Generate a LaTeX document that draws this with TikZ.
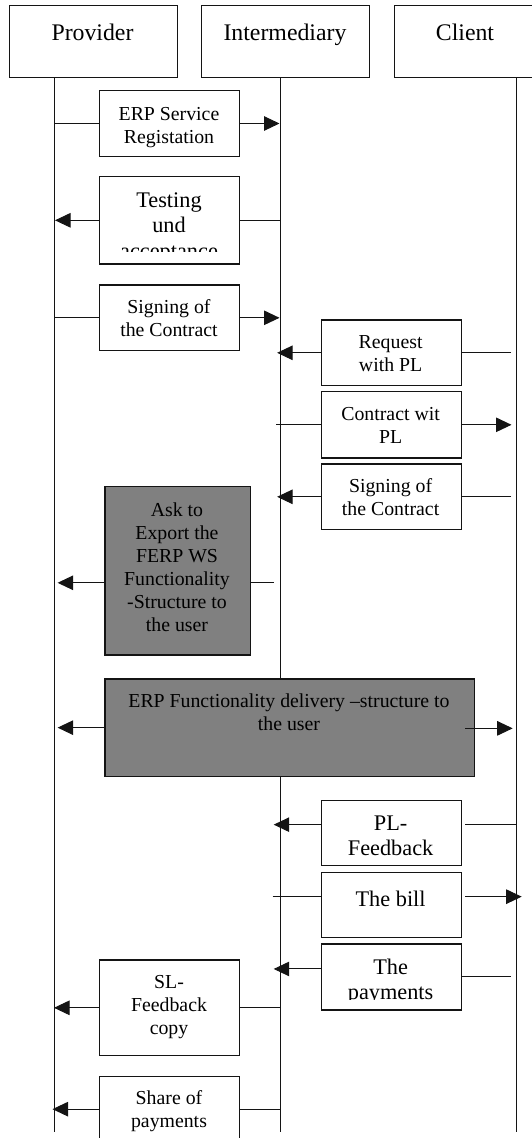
\documentclass[tikz,border=0pt]{standalone}
\usepackage{fontspec}
\setmainfont{Liberation Serif}
\usetikzlibrary{arrows.meta,calc}
\definecolor{boxgray}{RGB}{128,128,128}
\definecolor{ink}{RGB}{20,20,20}
\begin{document}
\begin{tikzpicture}[x=1pt,y=-1pt,
  hdr/.style={draw=ink,line width=1.2pt,inner sep=0pt,anchor=north west},
  box/.style={draw=ink,fill=white,line width=1.3pt,inner sep=0pt,anchor=north west},
  gbox/.style={box,fill=boxgray},
  hdrtxt/.style={font=\fontsize{23.8}{27}\selectfont,inner sep=0pt,anchor=base},
  txt/.style={font=\fontsize{19.8}{23}\selectfont,align=center,inner sep=0pt,anchor=north,yshift=-3.5pt,execute at begin node={\rule{0pt}{16.1pt}}},
  txtL/.style={font=\fontsize{22.3}{25.7}\selectfont,align=center,inner sep=0pt,anchor=north,yshift=-3.5pt,execute at begin node={\rule{0pt}{18pt}}},
  life/.style={draw=ink,line width=1pt},
  ln/.style={draw=ink,line width=1pt},
  arr/.style={ln,-{Triangle[length=15.5pt,width=14.5pt]}}]
\useasboundingbox (0,0) rectangle (532,1138);
\clip (0,0) rectangle (532,1138);

% headers
\node[hdr,minimum width=168.5pt,minimum height=72pt] (hP) at (8.5,5) {};
\node[hdr,minimum width=168.5pt,minimum height=72pt] (hI) at (200.5,5) {};
\node[hdr,minimum width=175pt,minimum height=72pt] (hC) at (394,5) {};
\node[hdrtxt] (tP) at (92.5,40) {Provider};
\node[hdrtxt] (tI) at (285,40) {Intermediary};
\node[hdrtxt] (tC) at (465,40) {Client};

% lifelines
\coordinate (P) at (54,77);   \coordinate (Pe) at (54,1131.7);
\coordinate (I) at (280.5,77); \coordinate (Ie) at (280.5,1131.7);
\coordinate (C) at (516,77);  \coordinate (Ce) at (516,1131.7);
\draw[life] (P) -- (Pe);
\draw[life] (I) -- (Ie);
\draw[life] (C) -- (Ce);

% message boxes
\node[box,minimum width=140pt,minimum height=65.7pt] (b1) at (99,90) {};
\node[box,minimum width=140pt,minimum height=87.3pt] (b2) at (99,176) {};
\node[box,minimum width=140pt,minimum height=65.7pt] (b3) at (99,284.3) {};
\node[box,minimum width=140.2pt,minimum height=65.7pt] (b4) at (320.5,319.3) {};
\node[box,minimum width=140.2pt,minimum height=66.3pt] (b5) at (320.5,391) {};
\node[box,minimum width=140.2pt,minimum height=65.7pt] (b6) at (320.5,463.3) {};
\node[gbox,minimum width=145.4pt,minimum height=168.3pt] (b7) at (104.3,486) {};
\node[gbox,minimum width=369.3pt,minimum height=97.4pt] (b8) at (104.3,678.3) {};
\node[box,minimum width=140.2pt,minimum height=65pt] (b9) at (320.5,800) {};
\node[box,minimum width=140.2pt,minimum height=65pt] (b10) at (320.5,871.7) {};
\node[box,minimum width=140.2pt,minimum height=66pt] (b11) at (320.5,943.3) {};
\node[box,minimum width=140pt,minimum height=95.7pt] (b12) at (99,959.3) {};
\node[box,minimum width=140pt,minimum height=65pt] (b13) at (99,1076) {};

% texts
\node[txt] (x1) at (169,103.4) {ERP Service\\Registation};
\begin{scope}
\clip (99,176) rectangle (239,251.7);
\node[txtL] (x2) at (169,188.7) {Testing\\und\\acceptance};
\end{scope}
\node[txt] (x3) at (169,295.9) {Signing of\\the Contract};
\node[txt] (x4) at (390.6,331.9) {Request\\with PL};
\node[txt] (x5) at (390.6,403.5) {Contract wit\\PL};
\node[txt] (x6) at (390.6,475.2) {Signing of\\the Contract};
\node[txt] (x7) at (177,498.6) {Ask to\\Export the\\FERP WS\\Functionality\\-Structure to\\the user};
\node[txt] (x8) at (289,689.9) {ERP Functionality delivery –structure to\\the user};
\begin{scope}
\clip (320.5,800) rectangle (460.7,856);
\node[txtL] (x9) at (390.6,811.8) {PL-\\Feedback};
\end{scope}
\node[txtL] (x10) at (390.6,885) {The bill};
\begin{scope}
\clip (320.5,943.3) rectangle (460.7,999.3);
\node[txtL] (x11) at (390.6,955) {The\\payments};
\end{scope}
\node[txt] (x12) at (169,971.9) {SL-\\Feedback\\copy};
\node[txt] (x13) at (169,1086.9) {Share of\\payments};

% connectors
\draw[ln] (b1.west) -- (b1.west -| P);
\draw[arr] (b1.east) -- ($(b1.east -| I)+(-1,0)$);

\draw[ln] (b2.east) -- (b2.east -| I);
\draw[arr] (b2.west) -- ($(b2.west -| P)+(1,0)$);

\draw[ln] (b3.west) -- (b3.west -| P);
\draw[arr] (b3.east) -- ($(b3.east -| I)+(-1,0)$);

\draw[ln] ($(b4.east -| C)+(-5,0)$) -- (b4.east);
\draw[arr] (b4.west) -- ($(b4.west -| I)+(-3.4,0)$);

\draw[ln] ($(b5.west -| I)+(-4.5,0)$) -- (b5.west);
\draw[arr] (b5.east) -- ($(b5.east -| C)+(-4.5,0)$);

\draw[ln] ($(b6.east -| C)+(-5,0)$) -- (b6.east);
\draw[arr] (b6.west) -- ($(b6.west -| I)+(-3.4,0)$);

\draw[ln] ($(b7.east)+(0,12)$) -- ($(b7.east -| I)+(-6.8,12)$);
\draw[arr] ($(b7.west)+(0,12)$) -- ($(b7.west -| P)+(3.6,12)$);

\draw[arr] (b8.west) -- ($(b8.west -| P)+(3.6,0)$);
\draw[arr] ($(b8.east)+(-9.6,0.7)$) -- ($(b8.east -| C)+(-3.3,0.7)$);

\draw[arr] ($(b9.west)+(0,-8.5)$) -- ($(b9.west -| I)+(-6.8,-8.5)$);
\draw[ln] ($(b9.east)+(3.3,-8.5)$) -- ($(b9.east -| C)+(0,-8.5)$);

\draw[ln] ($(b10.west -| I)+(-7.8,-8.2)$) -- ($(b10.west)+(0,-8.2)$);
\draw[arr] ($(b10.east)+(3.3,-8.2)$) -- ($(b10.east -| C)+(5.7,-8.2)$);

\draw[arr] ($(b11.west)+(0,-8)$) -- ($(b11.west -| I)+(-6.8,-8)$);
\draw[ln] (b11.east) -- ($(b11.east -| C)+(-5.2,0)$);

\draw[ln] (b12.east) -- (b12.east -| I);
\draw[arr] (b12.west) -- (b12.west -| P);

\draw[ln] (b13.east) -- (b13.east -| I);
\draw[arr] (b13.west) -- ($(b13.west -| P)+(-1.5,0)$);
\end{tikzpicture}
\end{document}
